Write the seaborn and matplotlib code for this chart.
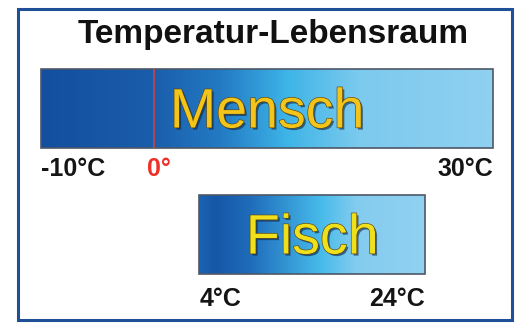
import numpy as np
import matplotlib
matplotlib.use("Agg")
import matplotlib.pyplot as plt
import matplotlib.patheffects as pe
from matplotlib.colors import LinearSegmentedColormap
from matplotlib.patches import Rectangle
import seaborn as sns

# ---- data ----
title = "Temperatur-Lebensraum"
organisms = ["Mensch", "Fisch"]
t_min = [-10, 4]
t_max = [30, 24]
min_labels = ["-10°C", "4°C"]
max_labels = ["30°C", "24°C"]
freezing_point = 0
freezing_label = "0°"

# ---- style ----
sns.set_theme(style="white")
plt.rcParams["font.family"] = ["Liberation Sans", "DejaVu Sans"]

grad_stops = [
    [(0.0, "#134f9e"), (0.245, "#1a5dab"), (0.40, "#237bc4"), (0.544, "#3db4e7"),
     (0.706, "#7ccaee"), (1.0, "#90d0f1")],
    [(0.0, "#1c63b3"), (0.07, "#1657a7"), (0.22, "#1e6bba"), (0.54, "#47bbea"),
     (0.70, "#84ccef"), (1.0, "#91d1f1")],
]
name_colors = ["#f3c41a", "#f0e01c"]
label_offsets_px = [28, 32]
bar_height = 0.627

fig = plt.figure(figsize=(5.16, 3.23), dpi=100)
ax = fig.add_axes([0, 0, 1, 1])
ax.set_axis_off()

ypos = np.arange(len(organisms))
bars = ax.barh(ypos, np.array(t_max) - np.array(t_min), left=t_min,
               height=bar_height, color="none", edgecolor="#4d5866",
               linewidth=1.2, zorder=3)

for i, (bar, stops) in enumerate(zip(bars, grad_stops)):
    cmap = LinearSegmentedColormap.from_list(f"g{i}", stops)
    grad = np.linspace(0, 1, 400).reshape(1, -1)
    y0 = ypos[i] - bar_height / 2
    y1 = ypos[i] + bar_height / 2
    im = ax.imshow(grad, extent=(t_min[i], t_max[i], y1, y0), aspect="auto",
                   cmap=cmap, zorder=2, interpolation="bilinear")
    im.set_clip_path(bar)

    # organism name
    ax.annotate(organisms[i], xy=((t_min[i] + t_max[i]) / 2, ypos[i]),
                xytext=(0, -19), textcoords="offset pixels",
                ha="center", va="baseline", fontsize=40,
                color=name_colors[i], zorder=5,
                path_effects=[pe.SimplePatchShadow(offset=(1.5, -1.5), shadow_rgbFace="#14203a", alpha=0.6),
                              pe.Stroke(linewidth=0.9, foreground="#5a4510"),
                              pe.Normal()])
    # range labels
    ax.annotate(min_labels[i], xy=(t_min[i], y1), xytext=(0, -label_offsets_px[i]),
                textcoords="offset pixels", ha="left", va="baseline",
                fontsize=18, fontweight="bold", color="#151515")
    ax.annotate(max_labels[i], xy=(t_max[i], y1), xytext=(0, -label_offsets_px[i]),
                textcoords="offset pixels", ha="right", va="baseline",
                fontsize=18, fontweight="bold", color="#151515")

# freezing point line on the Mensch bar
ax.vlines(freezing_point, ypos[0] - bar_height / 2, ypos[0] + bar_height / 2,
          color="#c0444a", linewidth=1.3, zorder=4)
ax.annotate(freezing_label, xy=(freezing_point, ypos[0] + bar_height / 2),
            xytext=(-7, -label_offsets_px[0]), textcoords="offset pixels",
            ha="left", va="baseline", fontsize=18, fontweight="bold",
            color="#ee3026")

ax.set_xlim(-13.63, 32.04)
ax.set_ylim(1.702, -0.861)

fig.text(0.529, 1 - 43 / 323, title, ha="center", va="baseline",
         fontsize=24, fontweight="bold", color="#111111")

fig.patches.append(Rectangle((18 / 516, 3 / 323), (512 - 18) / 516, (314 - 3) / 323,
                             transform=fig.transFigure, fill=False,
                             edgecolor="#1f4f97", linewidth=2.2))

fig.savefig("out.png", dpi=100)
